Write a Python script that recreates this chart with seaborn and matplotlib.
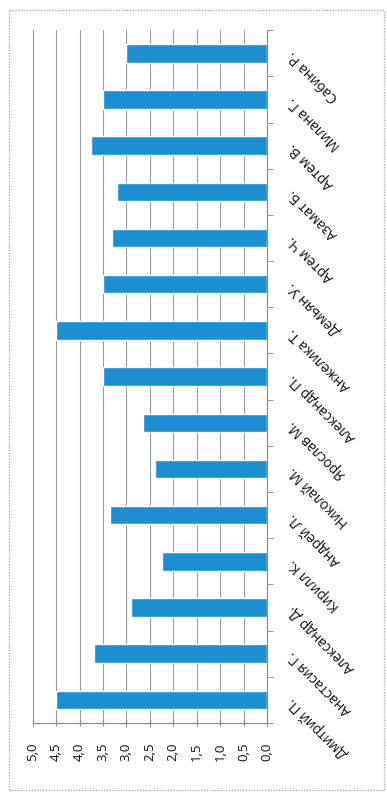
import matplotlib
matplotlib.use("Agg")
import matplotlib.pyplot as plt
import seaborn as sns
import pandas as pd
from matplotlib.patches import Rectangle

# data (first name = bottom bar)
names = ["Дмитрий П.", "Анастасия Г.", "Александр Д.", "Кирилл К.", "Андрей Л.",
         "Николай М.", "Ярослав М.", "Александр П.", "Анжелика Т.", "Демьян У.",
         "Артем Ч.", "Азамат Б.", "Артем В.", "Милана Г.", "Сабина Р."]
scores = [4.5, 3.7, 2.9, 2.25, 3.35, 2.4, 2.65, 3.5, 4.5, 3.5, 3.3, 3.2, 3.75, 3.5, 3.0]
ticks = [0, 0.5, 1, 1.5, 2, 2.5, 3, 3.5, 4, 4.5, 5]
tick_labels = [f"{t:.1f}".replace(".", ",") for t in ticks]

df = pd.DataFrame({"name": names, "score": scores})

sns.set_style("white")
plt.rcParams["font.family"] = ["Open Sans", "DejaVu Sans"]

fig = plt.figure(figsize=(3.87, 7.94), dpi=100)
ax = fig.add_axes([0.0845, 0.0894, 0.6055, 0.8726])

sns.barplot(data=df, x="score", y="name", order=names[::-1], orient="h",
            color="#1b8fd2", saturation=1, width=0.4, ax=ax)

ax.set_xlim(5, 0)
ax.set_ylim(14.5, -0.5)
ax.set_xticks(ticks)
ax.set_xticklabels(tick_labels, rotation=90, fontsize=9.5, color="#111111")
ax.xaxis.grid(True, color="#9a9a9a", lw=0.8)
ax.set_axisbelow(True)
ax.set_xlabel("")
ax.set_ylabel("")

for s in ["top", "left"]:
    ax.spines[s].set_visible(False)
ax.spines["right"].set_color("#888888")
ax.spines["bottom"].set_color("#888888")
ax.spines["right"].set_linewidth(0.8)
ax.spines["bottom"].set_linewidth(0.8)

ax.yaxis.tick_right()
ax.set_yticks([i - 0.5 for i in range(16)], minor=True)
ax.tick_params(axis="y", which="minor", right=True, left=False, length=4,
               color="#888888")
ax.tick_params(axis="y", which="major", length=0, pad=17, labelsize=10,
               labelcolor="#111111")
ax.tick_params(axis="x", which="major", bottom=True, length=4, color="#888888",
               direction="inout", pad=12)
plt.setp(ax.get_yticklabels(), rotation=135, rotation_mode="anchor",
         ha="right", va="center")

# outer chart border
fig.patches.append(Rectangle((9 / 387, 4 / 794), 375 / 387, 780 / 794,
                             transform=fig.transFigure, fill=False,
                             ec="#b0b0b0", lw=1, ls=(0, (1, 1))))

fig.savefig("out.png", dpi=100, facecolor="white")
